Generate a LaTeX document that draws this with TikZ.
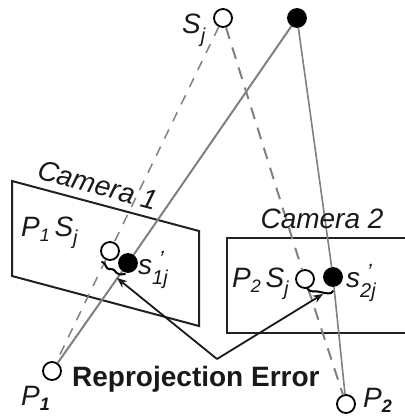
\documentclass[tikz,border=0pt]{standalone}
\usepackage{fontspec}
\setmainfont{Liberation Sans}
\usetikzlibrary{arrows.meta, positioning, calc}
\definecolor{bordeRayo}{gray}{0.5}
\definecolor{bordeCam}{gray}{0.13}
\newcommand{\subi}[1]{\raisebox{-0.2em}{\fontsize{18}{18}\selectfont #1}}
\newcommand{\subj}[1]{\raisebox{-0.3em}{\fontsize{20}{20}\selectfont #1}}
\newcommand{\primado}[1]{\rlap{\raisebox{0.26em}{\fontsize{22}{22}\selectfont\hspace{0.3em}’}}\raisebox{-0.36em}{\fontsize{20}{20}\selectfont #1}}

\begin{document}
\begin{tikzpicture}[
  x=1pt, y=-1pt,
  punto/.style={circle, draw=black, fill=white, line width=1.8pt, minimum size=18pt, inner sep=0pt},
  puntoN/.style={punto, fill=black},
  rayo/.style={draw=bordeRayo, line width=2pt},
  rayoD/.style={draw=bordeRayo, line width=1.5pt, dash pattern=on 10pt off 9pt},
  rayoG/.style={draw=bordeRayo, line width=2pt, dash pattern=on 12pt off 9pt},
  camara/.style={draw=bordeCam, line width=2pt},
  flecha/.style={-{Stealth[length=10pt,width=8pt]}, draw=black!90, line width=1.8pt},
  resto/.style={draw=black, line width=2pt, line cap=round},
  etiqueta/.style={font=\fontsize{28}{30}\selectfont\itshape, text=black!90, inner sep=0pt}
]
\useasboundingbox (0,0) rectangle (404,417);

% Camaras
\coordinate (c1a) at (12,181);
\coordinate (c1b) at (199,231);
\coordinate (c1c) at (199,326);
\coordinate (c1d) at (12,276);
\draw[camara] (c1a) -- (c1b) -- (c1c) -- (c1d) -- cycle;
\coordinate (c2a) at (410,238);
\coordinate (c2b) at (227,238);
\coordinate (c2c) at (227,333);
\coordinate (c2d) at (410,333);
\draw[camara] (c2a) -- (c2b) -- (c2c) -- (c2d);

\node[punto]  (sj)  at (223,18) {};
\node[puntoN] (s)   at (297,18) {};
\node[punto]  (p1)  at (52,371) {};
\node[punto]  (p2)  at (346,404) {};
\node[punto]  (s1b) at (110,251) {};
\node[puntoN] (s1n) at (128,263) {};
\node[punto]  (s2b) at (305,279) {};
\node[puntoN] (s2n) at (333,277) {};

% Rayos
\draw[rayoD] (sj) -- (s1b) -- (p1);
\draw[rayoG] (sj) -- (s2b) -- (p2);
\draw[rayo] (s) -- (s1n) -- (p1);
\draw[rayo, line width=1.6pt] (s) -- (s2n) -- (p2);

% Error entre los dos puntos
\coordinate (e1a) at (102,262);
\coordinate (e1b) at (125,274);
\coordinate (e2a) at (307,288);
\coordinate (e2b) at (333,291);
\draw[resto] (e1a) .. controls (108,263) and (103,270) .. (112,269) .. controls (117,270) and (114,276) .. (e1b);
\draw[resto] (e2a) .. controls (311,294) and (316,290) .. (320,292) .. controls (325,293) and (332,295) .. (e2b);

\coordinate (vert) at (217,359);
\coordinate (dest1) at (117,278);
\coordinate (dest2) at (323,294);
\draw[flecha] (vert) -- (dest1);
\draw[flecha] (vert) -- (dest2);

% Textos
\node[etiqueta, rotate=-15] (cam1) at (98,185) {Camera 1};
\node[etiqueta] (cam2) at (322,219) {Camera 2};
\node[etiqueta, anchor=base west] (sjt) at (182,34) {S\subj{j}};
\node[etiqueta, anchor=base west] (p1s) at (21,236) {P\subi{1}\,S\subj{j}};
\node[etiqueta, anchor=base west] (s1t) at (138,274) {s\primado{1j}};
\node[etiqueta, anchor=base west] (p2s) at (232,287) {P\subi{2}\,S\subj{j}};
\node[etiqueta, anchor=base west] (s2t) at (346,287) {s\primado{2j}};
\node[etiqueta, anchor=base west] (p1t) at (21,405) {P\subi{\bfseries 1}};
\node[etiqueta, anchor=base west] (p2t) at (363,407) {P\subi{\bfseries 2}};
\node[font=\fontsize{28}{30}\selectfont\bfseries, text=black!90, inner sep=0pt, anchor=base west] (err) at (72,386) {Reprojection Error};
\end{tikzpicture}
\end{document}
